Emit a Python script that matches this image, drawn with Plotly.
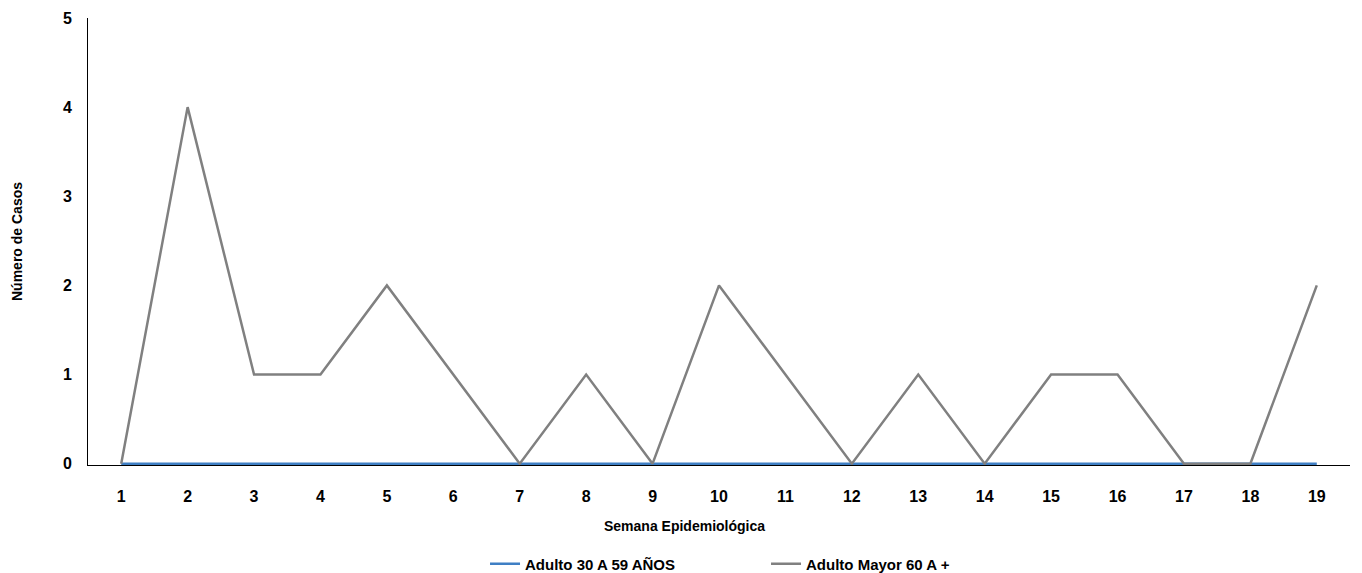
import plotly.graph_objects as go

semanas = list(range(1, 20))
adulto_30_59 = [0] * 19
adulto_mayor_60 = [0, 4, 1, 1, 2, 1, 0, 1, 0, 2, 1, 0, 1, 0, 1, 1, 0, 0, 2]

FONT = "Liberation Sans, Arial, sans-serif"

fig = go.Figure()
fig.add_trace(go.Scatter(x=semanas, y=adulto_30_59, mode="lines",
                         name="<b>Adulto 30 A 59 AÑOS</b>",
                         line=dict(color="#3f7fc4", width=2.5)))
fig.add_trace(go.Scatter(x=semanas, y=adulto_mayor_60, mode="lines",
                         name="<b>Adulto Mayor 60 A +</b>",
                         line=dict(color="#808080", width=2.5)))

fig.add_annotation(text="<b>Semana Epidemiológica</b>", xref="paper", yref="paper",
                   x=0.473, y=-0.1365, xanchor="center", yanchor="middle",
                   showarrow=False, font=dict(family=FONT, size=14, color="black"))

fig.update_layout(
    width=1346, height=565,
    margin=dict(l=80, r=4, t=10, b=108, autoexpand=False),
    paper_bgcolor="white", plot_bgcolor="white",
    font=dict(family=FONT, size=15, color="black"),
    showlegend=True,
    legend=dict(orientation="h", xref="container", x=0.3544, xanchor="left",
                yref="container", y=0.016, yanchor="middle",
                entrywidth=236, entrywidthmode="pixels",
                font=dict(family=FONT, size=15, color="black"),
                itemwidth=30),
    xaxis=dict(range=[0.5, 19.5], tickmode="array", tickvals=semanas,
               ticktext=[f"<b>{s}</b>" for s in semanas],
               showgrid=False, zeroline=False, showline=True,
               linecolor="black", linewidth=1, ticks="",
               ticklabelstandoff=17, automargin=False,
               tickfont=dict(family=FONT, size=16)),
    yaxis=dict(range=[-0.015, 5], tickmode="array", tickvals=[0, 1, 2, 3, 4, 5],
               ticktext=[f"<b>{v}</b>" for v in range(6)],
               showgrid=False, zeroline=False, showline=True,
               linecolor="black", linewidth=1, ticks="",
               ticklabelstandoff=12, automargin=False,
               title=dict(text="<b>Número de Casos</b>", standoff=36,
                          font=dict(family=FONT, size=14)),
               tickfont=dict(family=FONT, size=16)),
)

fig.write_html("out.html")
